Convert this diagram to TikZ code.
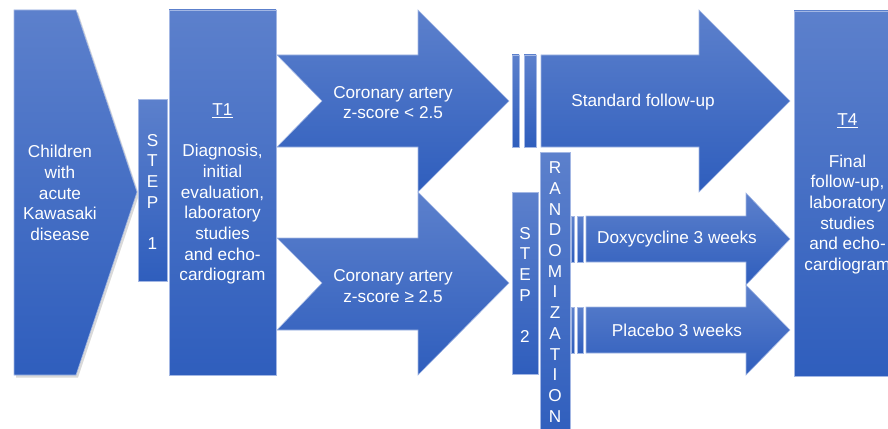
\documentclass[tikz,border=0pt]{standalone}
\usepackage{fontspec}
\setmainfont{Liberation Sans}
\definecolor{btop}{HTML}{5C80CC}
\definecolor{bbot}{HTML}{2F5EBD}
\definecolor{bedge}{HTML}{A3B7E4}
\tikzset{
  blk/.style={top color=btop,bottom color=bbot,draw=bedge,line width=0.6pt},
  lbl/.style={text=white,align=center,font=\fontsize{17.2}{20.7}\selectfont,inner sep=0pt}
}
\begin{document}
\begin{tikzpicture}[x=1pt,y=-1pt]
\useasboundingbox (0,0) rectangle (888,428);
\clip (0,0) rectangle (888,428);
% shadow of first shape
\fill[black,opacity=0.15] (16,12.5) -- (78,12.5) -- (139,194.5) -- (78,377.5) -- (16,377.5) -- cycle;
\shade[blk] (14,10) -- (76,10) -- (137,192) -- (76,375) -- (14,375) -- cycle;
% step 1 and T1
\shade[blk] (138,99) rectangle (167,281);
\shade[blk] (169,10) rectangle (276,375);
% coronary arrows
\shade[blk] (277,55) -- (418,55) -- (418,10) -- (509,101) -- (418,192) -- (418,147) -- (277,147) -- (322,101) -- cycle;
\shade[blk] (277,238) -- (418,238) -- (418,192) -- (509,283) -- (418,375) -- (418,330) -- (277,330) -- (322,283) -- cycle;
% standard follow-up
\shade[blk] (512,55) rectangle (519,147);
\shade[blk] (524,55) rectangle (536,147);
\shade[blk] (541,55) -- (699,55) -- (699,10) -- (790,101) -- (699,192) -- (699,147) -- (541,147) -- cycle;
% step 2 and randomization
\shade[blk] (512,192) rectangle (538,374);
\shade[blk] (540,152) rectangle (570,440);
% doxycycline
\shade[blk] (571,216) rectangle (574,262);
\shade[blk] (577,216) rectangle (583,262);
\shade[blk] (586,216) -- (746,216) -- (746,193) -- (790,239) -- (746,285) -- (746,262) -- (586,262) -- cycle;
% placebo
\shade[blk] (571,307) rectangle (574,353);
\shade[blk] (577,307) rectangle (583,353);
\shade[blk] (586,307) -- (746,307) -- (746,285) -- (790,330) -- (746,375) -- (746,353) -- (586,353) -- cycle;
% T4
\shade[blk] (794,11) rectangle (902,376);
% texts
\node[lbl] (kd) at (60,193) {Children\\with\\acute\\Kawasaki\\disease};
\node[lbl] (s1) at (152.5,192) {S\\T\\E\\P\\~\\1};
\node[lbl] (t1) at (222.5,194) {\underline{T1}\\~\\Diagnosis,\\initial\\evaluation,\\laboratory\\studies\\and echo-\\cardiogram};
\node[lbl] (lo) at (393,102.5) {Coronary artery\\z-score < 2.5};
\node[lbl] (hi) at (393,286) {Coronary artery\\z-score ≥ 2.5};
\node[lbl] (sf) at (643,102) {Standard follow-up};
\node[lbl] (s2) at (525,285) {S\\T\\E\\P\\~\\2};
\node[lbl] (rz) at (555,292) {R\\A\\N\\D\\O\\M\\I\\Z\\A\\T\\I\\O\\N};
\node[lbl] (dx) at (677,239) {Doxycycline 3 weeks};
\node[lbl] (pl) at (677,330) {Placebo 3 weeks};
\node[lbl] (t4) at (847.5,194) {\underline{T4}\\~\\Final\\follow-up,\\laboratory\\studies\\and echo-\\cardiogram};
\end{tikzpicture}
\end{document}
